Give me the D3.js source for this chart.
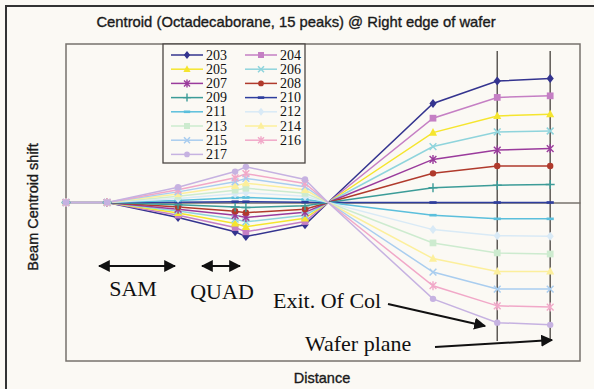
<!DOCTYPE html>
<html>
<head>
<meta charset="utf-8">
<script src="https://cdn.jsdelivr.net/npm/d3@7"></script>
<style>
  body { margin: 0; background: #fbf9f4; }
  svg { display: block; }
</style>
</head>
<body>
<div class="chart"></div>
<script>
// distance positions of the measurement points (arbitrary units)
let distance = [0, 8, 21.8, 32.9, 35, 46.5, 51, 71.4, 83.9, 94.2],
    names = ['203', '204', '205', '206', '207', '208', '209', '210',
             '211', '212', '213', '214', '215', '216', '217'];

// beam centroid shift per peak
let s203 = [0, 0, -0.95, -1.85, -2.15, -1.40, 0, 6.25, 7.66, 7.83],
    s204 = [0, 0, -0.80, -1.58, -1.85, -1.20, 0, 5.32, 6.63, 6.73],
    s205 = [0, 0, -0.66, -1.32, -1.53, -1.00, 0, 4.41, 5.46, 5.57],
    s206 = [0, 0, -0.53, -1.05, -1.22, -0.80, 0, 3.53, 4.45, 4.51],
    s207 = [0, 0, -0.42, -0.81, -0.94, -0.62, 0, 2.72, 3.31, 3.40],
    s208 = [0, 0, -0.28, -0.55, -0.64, -0.42, 0, 1.84, 2.30, 2.30],
    s209 = [0, 0, -0.14, -0.28, -0.32, -0.21, 0, 0.93, 1.09, 1.14],
    s210 = [0, 0, 0.02, 0.05, 0.05, 0.02, 0, 0, 0, 0],
    s211 = [0, 0, 0.12, 0.30, 0.32, 0.19, 0, -0.80, -1.03, -1.03],
    s212 = [0, 0, 0.26, 0.55, 0.62, 0.39, 0, -1.71, -2.09, -2.13],
    s213 = [0, 0, 0.39, 0.78, 0.90, 0.58, 0, -2.55, -3.18, -3.25],
    s214 = [0, 0, 0.54, 1.05, 1.22, 0.80, 0, -3.54, -4.35, -4.35],
    s215 = [0, 0, 0.67, 1.31, 1.52, 1.00, 0, -4.39, -5.46, -5.46],
    s216 = [0, 0, 0.80, 1.56, 1.82, 1.20, 0, -5.25, -6.52, -6.60],
    s217 = [0, 0, 0.96, 1.95, 2.25, 1.45, 0, -6.08, -7.58, -7.72];

let seriesValues = [s203, s204, s205, s206, s207, s208, s209, s210,
                    s211, s212, s213, s214, s215, s216, s217];

// styling
let colors = ['#34348f', '#c57fc4', '#f5e52e', '#8fd4dc', '#9a3b9c', '#b03a2c', '#3c9c98', '#2e3e9e',
              '#5bbfdc', '#d9eaf6', '#cdebcf', '#fcef9c', '#a9cdef', '#f1a8c8', '#c6b2e1'],
    shapes = ['diamond', 'square', 'triangle', 'x', 'star', 'circle', 'plus', 'dash',
              'dash', 'diamond', 'square', 'triangle', 'x', 'star', 'circle'];

let W = 594, H = 389,
    plot = {l: 66, r: 580, t: 44, b: 361};

let svg = d3.select('.chart')
            .append('svg')
            .attr('width', W)
            .attr('height', H);

svg.append('rect').attr('width', W).attr('height', H).attr('fill', '#fbf9f4');

// outer frame (top + left only, like the scan)
svg.append('path')
    .attr('d', `M6,${H} V6 H${W}`)
    .attr('fill', 'none')
    .attr('stroke', '#333')
    .attr('stroke-width', 2);

let x = d3.scaleLinear().domain([0, 100]).range([plot.l, plot.r]),
    y = d3.scaleLinear().domain([-10, 10]).range([plot.b, plot.t]);

// plot frame
svg.append('rect')
    .attr('x', plot.l).attr('y', plot.t)
    .attr('width', plot.r - plot.l).attr('height', plot.b - plot.t)
    .attr('fill', 'none')
    .attr('stroke', '#77726c')
    .attr('stroke-width', 1.5);

// zero axis
svg.append('g')
    .attr('transform', `translate(0, ${y(0)})`)
    .call(d3.axisBottom(x).tickValues([]).tickSizeOuter(0))
    .select('.domain')
    .attr('stroke', '#77726c')
    .attr('stroke-width', 1.3);

// exit of column and wafer plane markers
[distance[8], distance[9]].forEach(d => {
    svg.append('line')
        .attr('x1', x(d)).attr('x2', x(d))
        .attr('y1', 51).attr('y2', 341)
        .attr('stroke', '#5e5a55')
        .attr('stroke-width', 1.5);
});

function marker(g, shape, color, cx, cy, s) {
    let p = g.append('path').attr('transform', `translate(${cx},${cy})`);
    if (shape === 'diamond') {
        p.attr('d', `M0,${-s} L${s * 0.8},0 L0,${s} L${-s * 0.8},0Z`).attr('fill', color);
    } else if (shape === 'square') {
        let h = s * 0.75;
        p.attr('d', `M${-h},${-h}H${h}V${h}H${-h}Z`).attr('fill', color);
    } else if (shape === 'triangle') {
        p.attr('d', `M0,${-s} L${s * 0.9},${s * 0.7} L${-s * 0.9},${s * 0.7}Z`).attr('fill', color);
    } else if (shape === 'circle') {
        p.attr('d', d3.symbol(d3.symbolCircle, s * s * 1.6)()).attr('fill', color);
    } else if (shape === 'x') {
        let h = s * 0.75;
        p.attr('d', `M${-h},${-h}L${h},${h}M${-h},${h}L${h},${-h}`)
         .attr('stroke', color).attr('stroke-width', 1.5).attr('fill', 'none');
    } else if (shape === 'plus') {
        p.attr('d', `M${-s},0H${s}M0,${-s}V${s}`)
         .attr('stroke', color).attr('stroke-width', 1.4).attr('fill', 'none');
    } else if (shape === 'star') {
        let h = s * 0.75;
        p.attr('d', `M${-h},${-h}L${h},${h}M${-h},${h}L${h},${-h}M0,${-s}V${s}`)
         .attr('stroke', color).attr('stroke-width', 1.4).attr('fill', 'none');
    } else if (shape === 'dash') {
        p.attr('d', `M${-s * 0.8},-1.3H${s * 0.8}V1.3H${-s * 0.8}Z`).attr('fill', color);
    }
}

let line = d3.line()
             .x((v, i) => x(distance[i]))
             .y(v => y(v));

let gLines = svg.append('g');
seriesValues.forEach((vals, k) => {
    gLines.append('path')
        .attr('d', line(vals))
        .attr('fill', 'none')
        .attr('stroke', colors[k])
        .attr('stroke-width', 1.5);
});
seriesValues.forEach((vals, k) => {
    vals.forEach((v, i) => {
        if (i === 6) return;       // crossing point, no marker
        marker(gLines, shapes[k], colors[k], x(distance[i]), y(v), 4.5);
    });
});

// legend
let leg = svg.append('g');
leg.append('rect')
    .attr('x', 163).attr('y', 44)
    .attr('width', 142).attr('height', 119)
    .attr('fill', '#fbf9f4')
    .attr('stroke', '#4a4642')
    .attr('stroke-width', 1.3);
names.forEach((n, k) => {
    let col = k % 2, row = Math.floor(k / 2),
        lx = col ? 245 : 171,
        ly = 55 + row * 14.2;
    leg.append('line')
        .attr('x1', lx).attr('x2', lx + 32)
        .attr('y1', ly).attr('y2', ly)
        .attr('stroke', colors[k]).attr('stroke-width', 1.5);
    marker(leg, shapes[k], colors[k], lx + 16, ly, 4);
    leg.append('text')
        .attr('x', lx + 35).attr('y', ly + 4.5)
        .attr('font-family', '"Liberation Serif", serif')
        .attr('font-size', 14)
        .attr('fill', '#111')
        .text(n);
});

// titles
let sans = '"Liberation Sans", Arial, sans-serif';
svg.append('text')
    .attr('x', 296).attr('y', 27)
    .attr('text-anchor', 'middle')
    .attr('font-family', sans)
    .attr('font-size', 14.8)
    .attr('fill', '#1a1a1a')
    .attr('stroke', '#1a1a1a').attr('stroke-width', 0.35)
    .text('Centroid (Octadecaborane, 15 peaks) @ Right edge of wafer');

svg.append('text')
    .attr('x', 322).attr('y', 383)
    .attr('text-anchor', 'middle')
    .attr('font-family', sans)
    .attr('font-size', 14.5)
    .attr('fill', '#1a1a1a')
    .attr('stroke', '#1a1a1a').attr('stroke-width', 0.35)
    .text('Distance');

svg.append('text')
    .attr('transform', 'translate(38, 207) rotate(-90)')
    .attr('text-anchor', 'middle')
    .attr('font-family', sans)
    .attr('font-size', 14.5)
    .attr('fill', '#1a1a1a')
    .attr('stroke', '#1a1a1a').attr('stroke-width', 0.35)
    .text('Beam Centroid shift');

// annotations
let defs = svg.append('defs');
defs.append('marker')
    .attr('id', 'head')
    .attr('viewBox', '0 0 10 10')
    .attr('refX', 9).attr('refY', 5)
    .attr('markerWidth', 6).attr('markerHeight', 6)
    .attr('markerUnits', 'strokeWidth')
    .attr('orient', 'auto-start-reverse')
    .append('path')
    .attr('d', 'M0,0 L10,5 L0,10 Z')
    .attr('fill', '#111');

let serif = '"Liberation Serif", "Times New Roman", serif';

function dblArrow(x1, x2, yy) {
    svg.append('line')
        .attr('x1', x1).attr('x2', x2)
        .attr('y1', yy).attr('y2', yy)
        .attr('stroke', '#111').attr('stroke-width', 2)
        .attr('marker-start', 'url(#head)')
        .attr('marker-end', 'url(#head)');
}
dblArrow(99, 175, 266);
dblArrow(202, 240, 266);

svg.append('text').attr('x', 133).attr('y', 296).attr('text-anchor', 'middle')
    .attr('font-family', serif).attr('font-size', 22).attr('fill', '#111').text('SAM');
svg.append('text').attr('x', 222).attr('y', 299).attr('text-anchor', 'middle')
    .attr('font-family', serif).attr('font-size', 22).attr('fill', '#111').text('QUAD');
svg.append('text').attr('x', 273).attr('y', 308)
    .attr('font-family', serif).attr('font-size', 22).attr('fill', '#111').text('Exit. Of Col');
svg.append('text').attr('x', 305).attr('y', 351)
    .attr('font-family', serif).attr('font-size', 22).attr('fill', '#111').text('Wafer plane');

svg.append('line')
    .attr('x1', 388).attr('y1', 304).attr('x2', 485).attr('y2', 326)
    .attr('stroke', '#111').attr('stroke-width', 2)
    .attr('marker-end', 'url(#head)');
svg.append('line')
    .attr('x1', 435).attr('y1', 347).attr('x2', 552).attr('y2', 340)
    .attr('stroke', '#111').attr('stroke-width', 2)
    .attr('marker-end', 'url(#head)');
</script>
</body>
</html>
